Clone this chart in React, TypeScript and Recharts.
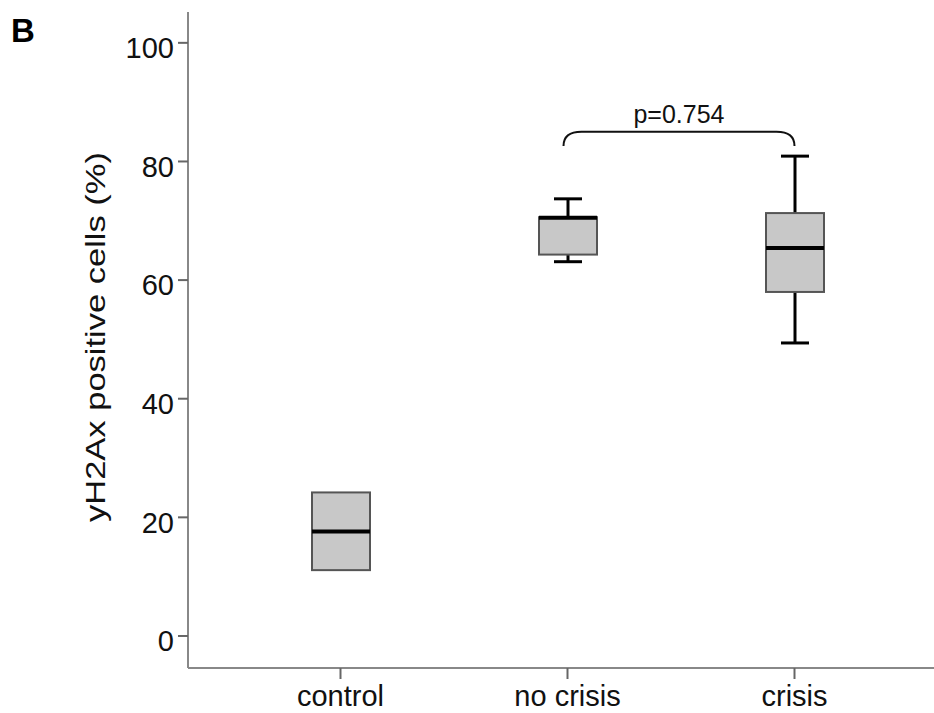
import React from 'react';
import { ComposedChart, Bar, XAxis, YAxis, ReferenceLine } from 'recharts';

const categories = ['control', 'no crisis', 'crisis'];
const q1Values = [11.1, 64.3, 58.0];
const q3Values = [24.2, 70.6, 71.3];
const medianValues = [17.6, 70.5, 65.4];
const whiskerLowValues = [11.1, 63.1, 49.4];
const whiskerHighValues = [24.2, 73.7, 80.9];
const yTicks = [0, 20, 40, 60, 80, 100];
const bracketLow = 82.6;
const bracketHigh = 85.0;
const bracketFrom = 'no crisis';
const bracketTo = 'crisis';
const pLabel = 'p=0.754';
const yLabel = 'yH2Ax positive cells (%)';
const panelLabel = 'B';

const data = categories.map((name, i) => ({
  name,
  q1: q1Values[i],
  q3: q3Values[i],
  median: medianValues[i],
  lo: whiskerLowValues[i],
  hi: whiskerHighValues[i],
}));

const FONT = '"Liberation Sans", Arial, sans-serif';

const BoxShape = (props: any) => {
  const { x, y, width, height, payload } = props;
  if (x == null || y == null) return null;
  const top = Math.min(y, y + height);
  const h = Math.abs(height);
  const ppu = h / (payload.q3 - payload.q1);
  const toY = (v: number) => top + (payload.q3 - v) * ppu;
  const cx = x + width / 2;
  const cap = 28;
  const els: any[] = [];
  if (payload.hi > payload.q3) {
    els.push(<line key="wh" x1={cx} x2={cx} y1={toY(payload.hi)} y2={top} stroke="#000" strokeWidth={3} />);
    els.push(<line key="ch" x1={cx - cap / 2} x2={cx + cap / 2} y1={toY(payload.hi)} y2={toY(payload.hi)} stroke="#000" strokeWidth={3} />);
  }
  if (payload.lo < payload.q1) {
    els.push(<line key="wl" x1={cx} x2={cx} y1={top + h} y2={toY(payload.lo)} stroke="#000" strokeWidth={3} />);
    els.push(<line key="cl" x1={cx - cap / 2} x2={cx + cap / 2} y1={toY(payload.lo)} y2={toY(payload.lo)} stroke="#000" strokeWidth={3} />);
  }
  return (
    <g>
      {els}
      <rect x={x} y={top} width={width} height={h} fill="#c8c8c8" stroke="#555" strokeWidth={2} />
      <line x1={x} x2={x + width} y1={toY(payload.median)} y2={toY(payload.median)} stroke="#000" strokeWidth={4} />
    </g>
  );
};

const BracketShape = (props: any) => {
  const { x1, y1, x2, y2 } = props;
  if (x1 == null) return null;
  const lowY = Math.max(y1, y2);
  const highY = Math.min(y1, y2);
  const r = 18;
  const d = `M ${x1 - 4} ${lowY} Q ${x1 - 4} ${highY} ${x1 - 4 + r} ${highY} H ${x2 - r} Q ${x2} ${highY} ${x2} ${lowY}`;
  return (
    <g>
      <path d={d} fill="none" stroke="#111" strokeWidth={2} />
      <text x={(x1 + x2) / 2 - 2} y={highY - 9} textAnchor="middle" fontSize={25} fontFamily={FONT} fill="#111">
        {pLabel}
      </text>
    </g>
  );
};

const YTick = (p: any) => (
  <text x={p.x} y={p.y + 5} dy="0.355em" textAnchor="end" fontSize={29} fontFamily={FONT} fill="#111">
    {p.payload.value}
  </text>
);

const XTick = (p: any) => (
  <text x={p.x} y={p.y + 17} textAnchor="middle" fontSize={29} fontFamily={FONT} fill="#111">
    {p.payload.value}
  </text>
);

export default function App() {
  return (
    <div style={{ position: 'relative', width: 934, height: 713 }}>
      <style>{'html,body{margin:0;padding:0;overflow:hidden;}'}</style>
      <ComposedChart width={934} height={713} data={data} margin={{ top: 12, right: 0, bottom: 0, left: 0 }}>
        <XAxis
          dataKey="name"
          type="category"
          height={45}
          padding={{ left: 39, right: 26 }}
          axisLine={{ stroke: '#888', strokeWidth: 2 }}
          tickLine={{ stroke: '#666', strokeWidth: 2 }}
          tickSize={11}
          tickMargin={10}
          tick={<XTick />}
          interval={0}
        />
        <YAxis
          type="number"
          width={188}
          domain={[-5.4, 105.2]}
          ticks={yTicks}
          allowDataOverflow
          axisLine={{ stroke: '#888', strokeWidth: 2 }}
          tickLine={{ stroke: '#666', strokeWidth: 2 }}
          tickSize={10}
          tickMargin={4}
          tick={<YTick />}
        />
        <Bar dataKey={(d: any) => [d.q1, d.q3]} barSize={58} shape={<BoxShape />} isAnimationActive={false} />
        <ReferenceLine
          segment={[{ x: bracketFrom, y: bracketLow }, { x: bracketTo, y: bracketHigh }]}
          shape={(p: any) => <BracketShape {...p} />}
        />
      </ComposedChart>
      <svg width={934} height={713} style={{ position: 'absolute', left: 0, top: 0, pointerEvents: 'none' }}>
        <text x={11} y={42} fontSize={33} fontWeight="bold" fontFamily={FONT} fill="#000">
          {panelLabel}
        </text>
        <text
          x={105}
          y={337}
          transform="rotate(-90 105 337)"
          textAnchor="middle"
          fontSize={28}
          fontFamily={FONT}
          fill="#111"
          textLength={370}
          lengthAdjust="spacingAndGlyphs"
        >
          {yLabel}
        </text>
      </svg>
    </div>
  );
}
